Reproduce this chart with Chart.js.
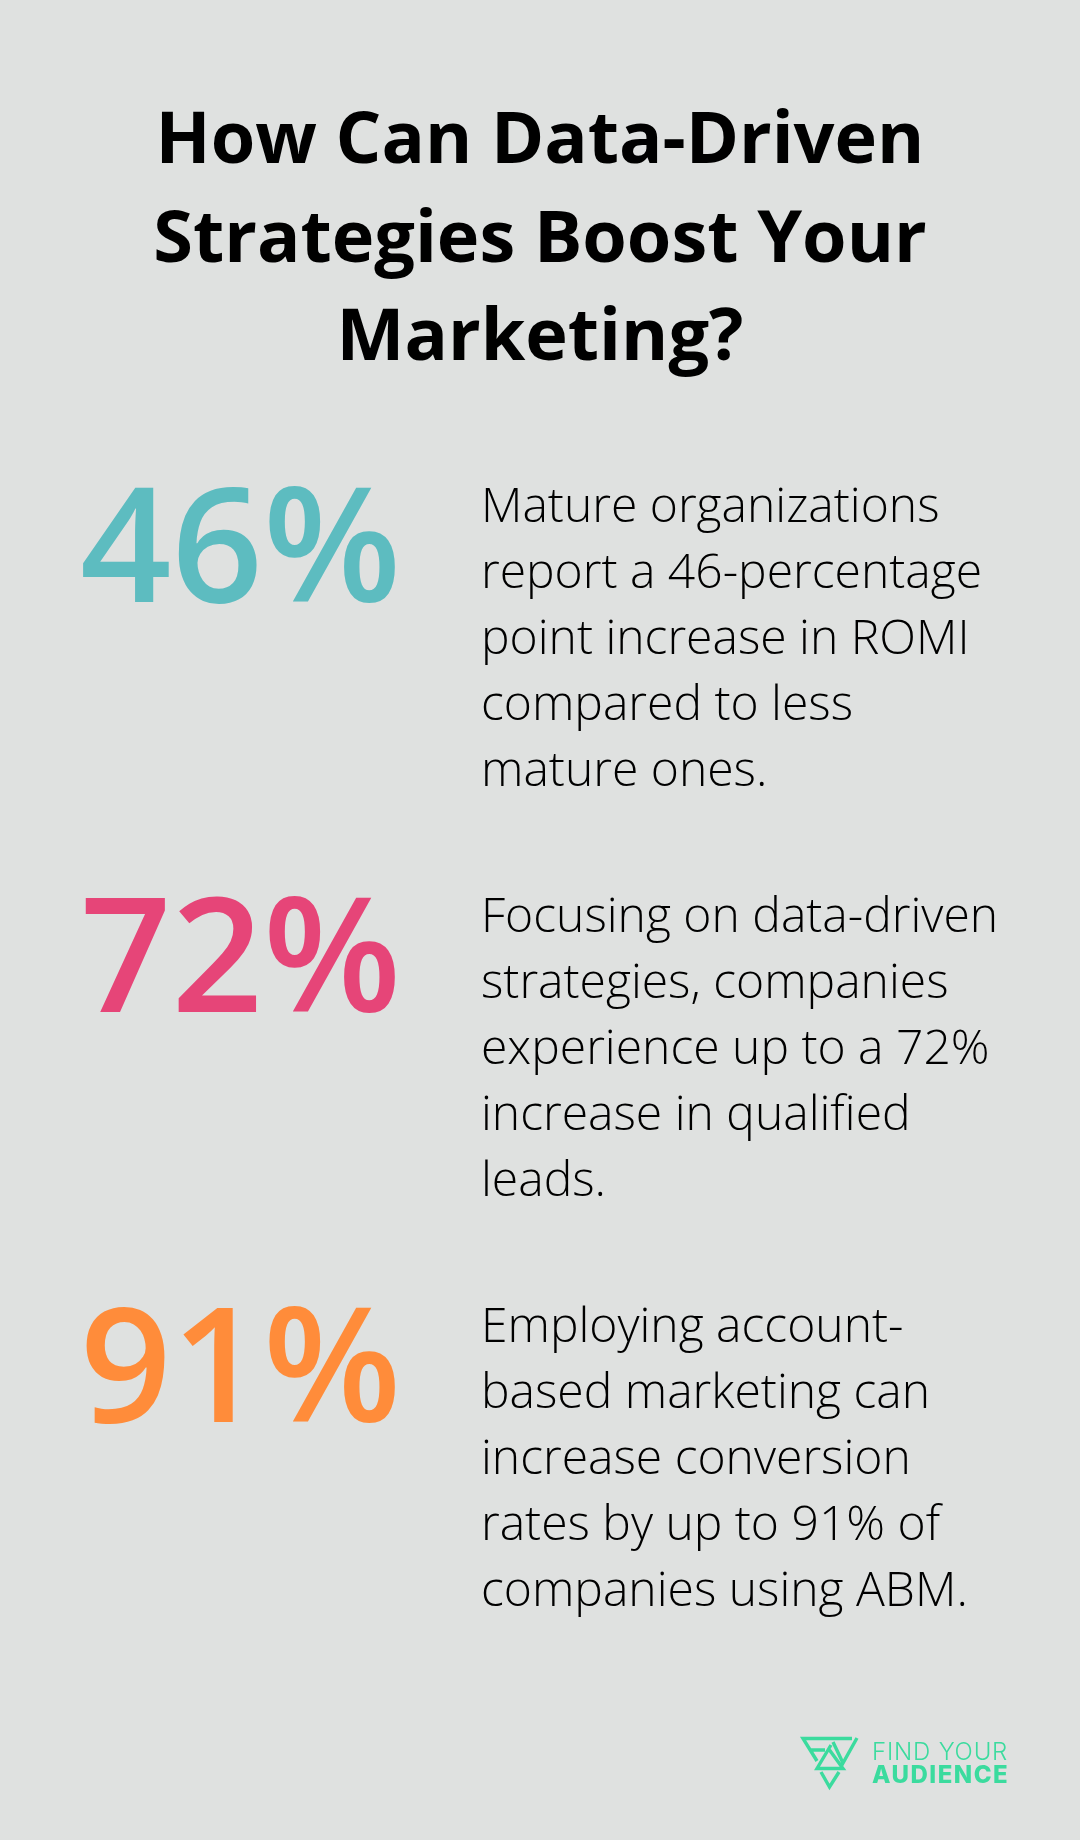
<!DOCTYPE html>
<html><head><meta charset="utf-8">
<style>html,body{margin:0;padding:0;background:#dfe1e0}canvas{display:block}#w{width:1080px;height:1840px;position:relative}</style>
<script src="https://cdn.jsdelivr.net/npm/chart.js@4"></script>
</head><body><div id="w"><canvas id="c" width="1080" height="1840"></canvas></div>
<script>
const titleLines = ["How Can Data-Driven","Strategies Boost Your","Marketing?"];
const categories = ["ROMI increase","Qualified leads","Conversion rates"];
const values = [46,72,91];
const colors = ["#5dbcc0","#e64578","#ff8c3a"];
const descriptions = [
 ["Mature organizations","report a 46-percentage","point increase in ROMI","compared to less","mature ones."],
 ["Focusing on data-driven","strategies, companies","experience up to a 72%","increase in qualified","leads."],
 ["Employing account-","based marketing can","increase conversion","rates by up to 91% of","companies using ABM."]
];
const logoLines = ["FIND YOUR","AUDIENCE"];
const BG="#dfe1e0", LOGO="#3bdb9e";
const textPlugin = {
 id:"txt",
 beforeDraw(ch){const c=ch.ctx;c.save();c.fillStyle=BG;c.fillRect(0,0,1080,1840);c.restore();},
 afterDraw(ch){
  const c=ch.ctx; c.save();
  c.textBaseline="alphabetic";
  c.fillStyle="#000"; c.textAlign="center"; c.font='700 72px "Open Sans"';
  [163,262,360].forEach((y,i)=>c.fillText(titleLines[i],540,y));
  const meta=ch.getDatasetMeta(0);
  meta.data.forEach((el,i)=>{
   const base=Math.round(el.y+57);
   c.textAlign="left"; c.fillStyle=colors[i];
   c.font='600 160px "Open Sans"';
   c.fillText(values[i]+"%",80,base);
   c.fillStyle="#000"; c.font='300 48px "Open Sans"';
   descriptions[i].forEach((t,j)=>c.fillText(t,481,base-80+j*66));
  });
  c.fillStyle=LOGO; c.textAlign="left";
  c.letterSpacing="0.8px";
  c.font='300 24px Inter'; c.fillText(logoLines[0],872,1760);
  c.letterSpacing="1.5px";
  c.font='800 24px Inter'; c.fillText(logoLines[1],872,1783);
  c.letterSpacing="0px";
  c.strokeStyle=LOGO;c.lineWidth=3.4;c.lineJoin="miter";
  c.beginPath();
  c.moveTo(852,1738.5);c.lineTo(803,1738.5);c.lineTo(817,1761);
  c.moveTo(810,1750);c.lineTo(825,1750);
  c.moveTo(857,1738);c.lineTo(843,1763);c.lineTo(833,1742);
  c.moveTo(831,1745);c.lineTo(817,1768.5);c.lineTo(843,1768.5);c.lineTo(829.5,1750);
  c.moveTo(821,1772);c.lineTo(829.5,1787);c.lineTo(839,1772);
  c.stroke();
  c.restore();
 }
};
new Chart(document.getElementById("c"),{
 type:"bar",
 data:{labels:categories,datasets:[{data:values,backgroundColor:"rgba(0,0,0,0)",borderWidth:0}]},
 options:{indexAxis:"y",responsive:false,animation:false,
  layout:{padding:{top:340,bottom:270,left:0,right:0}},
  plugins:{legend:{display:false},tooltip:{enabled:false},title:{display:false}},
  scales:{
   x:{display:false,min:0,max:100},
   y:{display:false,type:"category"}
  }},
 plugins:[textPlugin]
});
</script></body></html>
